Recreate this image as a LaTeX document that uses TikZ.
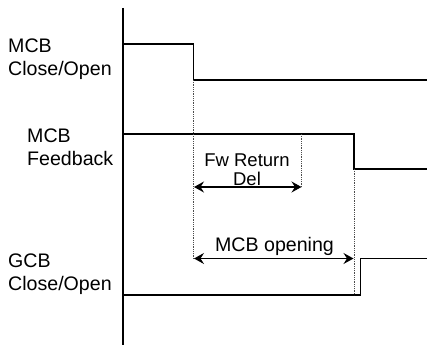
\documentclass[tikz,border=0pt]{standalone}
\usepackage{fontspec}
\setmainfont{Liberation Sans}
\usetikzlibrary{arrows.meta}
\begin{document}
\begin{tikzpicture}[x=1pt,y=-1pt,
  sig/.style={line width=1.3pt,black},
  axis/.style={line width=1.2pt,black},
  guide/.style={line width=0.8pt,densely dotted,black!70},
  dim/.style={line width=1.3pt,{Stealth[length=10pt,width=11pt,inset=3.5pt]}-{Stealth[length=10pt,width=11pt,inset=3.5pt]}},
  lbl/.style={font=\fontsize{19.6}{23}\selectfont,inner sep=0pt,align=left,anchor=base west},
  dimlbl/.style={inner sep=0pt,align=center,anchor=base}]
\useasboundingbox (0,0) rectangle (427,345);
% axis
\coordinate (axtop) at (123,8);
\coordinate (axbot) at (123,345);
\draw[axis] (axtop) -- (axbot);
% MCB close/open signal
\coordinate (a0) at (123,44);
\coordinate (a1) at (193.5,44);
\coordinate (a2) at (193.5,80);
\coordinate (a3) at (427,80);
\draw[sig] (a0) -- (a1) -- (a2) -- (a3);
% MCB feedback signal
\coordinate (b0) at (123,134);
\coordinate (b1) at (354,134);
\coordinate (b2) at (354,169);
\coordinate (b3) at (427,169);
\draw[sig] (b0) -- (b1) -- (b2) -- (b3);
% GCB close/open signal
\coordinate (c0) at (123,295);
\coordinate (c1) at (360.5,295);
\coordinate (c2) at (360.5,258.5);
\coordinate (c3) at (427,258.5);
\draw[sig] (c0) -- (c1) -- (c2) -- (c3);
% guides
\coordinate (g1top) at (193.5,80);
\coordinate (g1bot) at (193.5,258.5);
\coordinate (g2top) at (301.5,134);
\coordinate (g2bot) at (301.5,187);
\coordinate (g3top) at (354,169);
\coordinate (g3bot) at (354,295);
\draw[guide] (g1top) -- (g1bot);
\draw[guide] (g2top) -- (g2bot);
\draw[guide] (g3top) -- (g3bot);
% dimension arrows
\coordinate (fwL) at (194,187);
\coordinate (fwR) at (301.5,187);
\draw[dim] (fwL) -- (fwR);
\coordinate (opL) at (194,258.5);
\coordinate (opR) at (353.5,258.5);
\draw[dim] (opL) -- (opR);
% labels (base anchor = baseline of last line)
\node[lbl] (l1) at (8,75) {MCB\\Close/Open};
\node[lbl] (l2) at (27,165) {MCB\\Feedback};
\node[lbl] (l3) at (8,290) {GCB\\Close/Open};
\node[dimlbl,font=\fontsize{18.5}{18.3}\selectfont] (fw) at (247,185) {Fw Return\\Del};
\node[dimlbl,font=\fontsize{19.6}{23}\selectfont] (op) at (274.5,251.7) {MCB opening};
\end{tikzpicture}
\end{document}
